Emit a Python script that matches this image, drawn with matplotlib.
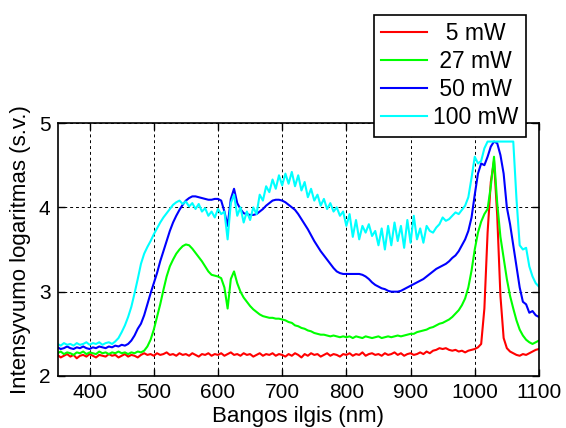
import numpy as np
import matplotlib
matplotlib.use("Agg")
import matplotlib.pyplot as plt

plt.rcParams["font.family"] = ["Liberation Sans", "DejaVu Sans"]

# wavelength grid of the exported spectra (nm)
wavelength = np.arange(350, 1101, 5)

# log10 intensity, one list per pump power
p5_mw = [
    2.25, 2.22, 2.24, 2.26, 2.23, 2.25, 2.21, 2.24, 2.25, 2.23,
    2.26, 2.24, 2.22, 2.25, 2.24, 2.23, 2.26, 2.24, 2.25, 2.22,
    2.24, 2.26, 2.23, 2.25, 2.24, 2.22, 2.25, 2.27, 2.25, 2.26,
    2.24, 2.27, 2.25, 2.26, 2.28, 2.25, 2.26, 2.24, 2.27, 2.25,
    2.26, 2.24, 2.27, 2.25, 2.23, 2.26, 2.25, 2.27, 2.24, 2.26,
    2.25, 2.27, 2.24, 2.26, 2.28, 2.25, 2.26, 2.24, 2.27, 2.25,
    2.26, 2.23, 2.25, 2.27, 2.24, 2.26, 2.25, 2.27, 2.24, 2.26,
    2.25, 2.23, 2.26, 2.24, 2.27, 2.25, 2.22, 2.26, 2.24, 2.27,
    2.25, 2.26, 2.23, 2.25, 2.27, 2.24, 2.26, 2.25, 2.23, 2.26,
    2.25, 2.27, 2.24, 2.26, 2.25, 2.28, 2.24, 2.26, 2.27, 2.25,
    2.26, 2.24, 2.27, 2.25, 2.26, 2.28, 2.25, 2.27, 2.24, 2.26,
    2.27, 2.25, 2.26, 2.28, 2.26, 2.29, 2.27, 2.30, 2.31, 2.33,
    2.32, 2.33, 2.31, 2.30, 2.31, 2.29, 2.30, 2.28, 2.30, 2.31,
    2.32, 2.34, 2.38, 2.80, 3.70, 4.30, 4.55, 3.90, 2.95, 2.45,
    2.33, 2.29, 2.27, 2.25, 2.24, 2.26, 2.25, 2.27, 2.29, 2.31,
    2.32,
]
p27_mw = [
    2.27, 2.29, 2.26, 2.28, 2.27, 2.25, 2.28, 2.27, 2.29, 2.26,
    2.28, 2.27, 2.26, 2.29, 2.27, 2.28, 2.26, 2.28, 2.27, 2.29,
    2.27, 2.28, 2.26, 2.28, 2.27, 2.29, 2.28, 2.30, 2.35, 2.43,
    2.55, 2.70, 2.85, 3.02, 3.18, 3.30, 3.38, 3.45, 3.50, 3.54,
    3.56, 3.55, 3.51, 3.46, 3.41, 3.36, 3.30, 3.24, 3.20, 3.19,
    3.18, 3.16, 3.05, 2.80, 3.15, 3.24, 3.10, 3.00, 2.93, 2.88,
    2.83, 2.79, 2.76, 2.73, 2.71, 2.70, 2.69, 2.69, 2.68, 2.68,
    2.67, 2.66, 2.64, 2.63, 2.60, 2.59, 2.57, 2.56, 2.54, 2.53,
    2.51, 2.50, 2.49, 2.49, 2.48, 2.47, 2.48, 2.47, 2.46, 2.47,
    2.46, 2.47, 2.45, 2.47, 2.46, 2.45, 2.47, 2.46, 2.45, 2.46,
    2.47, 2.45, 2.46, 2.47, 2.46, 2.47, 2.48, 2.47, 2.48, 2.49,
    2.50, 2.50, 2.52, 2.53, 2.54, 2.55, 2.57, 2.58, 2.60, 2.62,
    2.63, 2.65, 2.67, 2.70, 2.74, 2.78, 2.84, 2.92, 3.05, 3.25,
    3.50, 3.70, 3.83, 3.92, 3.98, 4.25, 4.60, 4.05, 3.65, 3.40,
    3.15, 2.95, 2.80, 2.66, 2.55, 2.48, 2.43, 2.40, 2.38, 2.40,
    2.42,
]
p50_mw = [
    2.34, 2.32, 2.33, 2.35, 2.33, 2.32, 2.34, 2.33, 2.35, 2.33,
    2.32, 2.34, 2.33, 2.35, 2.34, 2.33, 2.35, 2.34, 2.36, 2.35,
    2.37, 2.36, 2.38, 2.42, 2.48, 2.56, 2.62, 2.72, 2.85, 2.98,
    3.10, 3.22, 3.36, 3.48, 3.60, 3.72, 3.82, 3.90, 3.97, 4.03,
    4.08, 4.11, 4.13, 4.13, 4.12, 4.11, 4.10, 4.09, 4.09, 4.10,
    4.10, 4.08, 3.95, 3.78, 4.10, 4.22, 4.05, 3.98, 3.93, 3.92,
    3.91, 3.91, 3.92, 3.95, 3.98, 4.02, 4.05, 4.08, 4.09, 4.09,
    4.08, 4.06, 4.03, 4.00, 3.97, 3.92, 3.86, 3.80, 3.74, 3.67,
    3.60, 3.54, 3.48, 3.43, 3.38, 3.33, 3.28, 3.24, 3.22, 3.21,
    3.21, 3.21, 3.21, 3.21, 3.21, 3.20, 3.18, 3.15, 3.11, 3.08,
    3.06, 3.04, 3.03, 3.01, 3.00, 3.00, 3.00, 3.01, 3.03, 3.05,
    3.07, 3.09, 3.11, 3.13, 3.15, 3.18, 3.21, 3.24, 3.27, 3.29,
    3.31, 3.33, 3.36, 3.40, 3.43, 3.48, 3.55, 3.62, 3.72, 3.88,
    4.15, 4.40, 4.52, 4.50, 4.60, 4.72, 4.78, 4.76, 4.62, 4.40,
    4.00, 3.80, 3.55, 3.30, 3.05, 2.88, 2.85, 2.75, 2.77, 2.72,
    2.70,
]
p100_mw = [
    2.38, 2.36, 2.39, 2.37, 2.38, 2.36, 2.39, 2.37, 2.38, 2.40,
    2.37, 2.39, 2.38, 2.40, 2.37, 2.39, 2.40, 2.38, 2.41, 2.45,
    2.52, 2.60, 2.70, 2.82, 2.98, 3.15, 3.33, 3.45, 3.53, 3.60,
    3.68, 3.75, 3.82, 3.88, 3.93, 3.98, 4.03, 4.06, 4.08, 4.04,
    4.07, 4.01, 4.05, 3.98, 4.04, 3.95, 3.99, 3.90, 3.95, 3.88,
    3.98, 3.92, 3.95, 3.62, 4.05, 4.15, 3.90, 4.00, 3.82, 3.95,
    3.85, 4.00, 3.92, 4.15, 4.08, 4.25, 4.18, 4.33, 4.22, 4.38,
    4.26, 4.40, 4.28, 4.42, 4.25, 4.38, 4.20, 4.30, 4.12, 4.22,
    4.08, 4.15, 4.02, 4.10, 3.98, 4.05, 3.95, 4.00, 3.90, 3.95,
    3.78, 3.92, 3.65, 3.85, 3.62, 3.78, 3.70, 3.80, 3.66, 3.72,
    3.55, 3.75, 3.50, 3.78, 3.55, 3.82, 3.60, 3.78, 3.52, 3.85,
    3.58, 3.90, 3.62, 3.75, 3.58, 3.78, 3.72, 3.70, 3.76, 3.80,
    3.88, 3.84, 3.86, 3.90, 3.94, 3.92, 3.97, 4.02, 4.12, 4.35,
    4.60, 4.52, 4.55, 4.70, 4.78, 4.78, 4.78, 4.78, 4.78, 4.78,
    4.78, 4.78, 4.78, 4.10, 3.55, 3.50, 3.52, 3.30, 3.18, 3.10,
    3.06,
]

labels = ["  5 mW", " 27 mW", " 50 mW", "100 mW"]
colors = ["#ff0000", "#00ff00", "#0000ff", "#00ffff"]
xticks = [400, 500, 600, 700, 800, 900, 1000, 1100]
yticks = [2, 3, 4, 5]

fig = plt.figure(figsize=(5.66, 4.28), dpi=100)
ax = fig.add_axes([0.1016, 0.1215, 0.8506, 0.5911])

for series, lab, col in zip([p5_mw, p27_mw, p50_mw, p100_mw], labels, colors):
    ax.plot(wavelength, series, color=col, lw=1.5, label=lab)

ax.set_xlim(350, 1100)
ax.set_ylim(2, 5)
ax.set_xticks(xticks)
ax.set_yticks(yticks)
ax.tick_params(direction="in", length=5, width=1.0, top=True, right=True,
               labelsize=15, pad=5)
ax.grid(True, color="black", linestyle=(0, (3, 3)), linewidth=0.7)
for sp in ax.spines.values():
    sp.set_linewidth(1.2)

ax.set_xlabel("Bangos ilgis (nm)", fontsize=16, labelpad=3)
ax.set_ylabel("Intensyvumo logaritmas (s.v.)", fontsize=16, labelpad=6)

leg = fig.legend(loc="upper left", bbox_to_anchor=(374 / 566, 1 - 15 / 428),
                 borderaxespad=0, fontsize=16.5, handlelength=2.0,
                 handletextpad=0.25, borderpad=0.32, labelspacing=0.22,
                 fancybox=False, framealpha=1, edgecolor="black")
leg.get_frame().set_linewidth(1.2)
for line in leg.get_lines():
    line.set_linewidth(1.5)

fig.savefig("out.png", dpi=100)
